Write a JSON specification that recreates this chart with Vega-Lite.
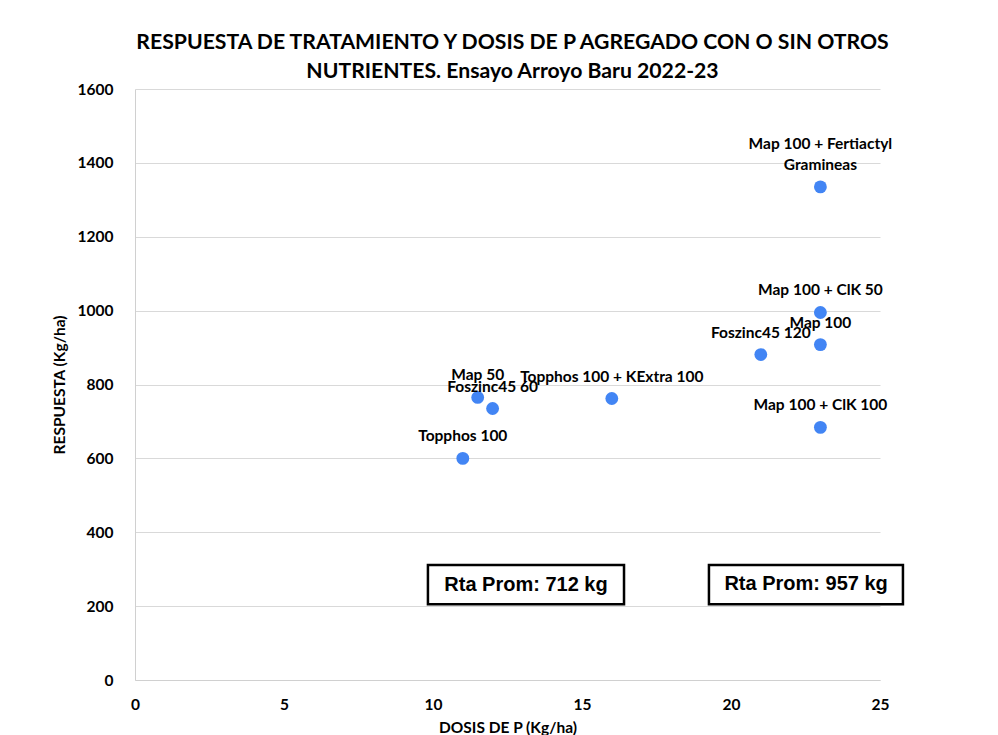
{
  "$schema": "https://vega.github.io/schema/vega-lite/v6.json",
  "autosize": "none",
  "width": 745,
  "height": 591,
  "padding": {"left": 135, "top": 89, "right": 118, "bottom": 55},
  "background": "white",
  "title": {
    "text": ["RESPUESTA DE TRATAMIENTO  Y DOSIS DE P AGREGADO CON O SIN OTROS", "NUTRIENTES.  Ensayo Arroyo Baru 2022-23"],
    "font": "Lato",
    "fontSize": 21.2,
    "fontWeight": "bold",
    "color": "#000000",
    "lineHeight": 29,
    "anchor": "middle",
    "offset": 0,
    "dx": 5
  },
  "config": {
    "view": {"stroke": null},
    "axis": {
      "labelFont": "Lato",
      "labelFontSize": 15.5,
      "labelFontWeight": "bold",
      "labelColor": "#000000",
      "labelFlush": false,
      "titleFont": "Lato",
      "titleFontSize": 15.5,
      "titleFontWeight": "bold",
      "titleColor": "#000000",
      "domainColor": "#d0d0d0",
      "gridColor": "#d9d9d9",
      "ticks": false
    }
  },
  "datasets": {
    "pts": [
      {"tratamiento": "Topphos 100", "dosis": 11, "respuesta": 600},
      {"tratamiento": "Map 50", "dosis": 11.5, "respuesta": 765},
      {"tratamiento": "Foszinc45 60", "dosis": 12, "respuesta": 735},
      {"tratamiento": "Topphos 100 + KExtra 100", "dosis": 16, "respuesta": 762},
      {"tratamiento": "Foszinc45 120", "dosis": 21, "respuesta": 881},
      {"tratamiento": "Map 100", "dosis": 23, "respuesta": 908},
      {"tratamiento": "Map 100 + ClK 50", "dosis": 23, "respuesta": 995},
      {"tratamiento": "Map 100 + ClK 100", "dosis": 23, "respuesta": 684},
      {"tratamiento": "Map 100 + Fertiactyl\nGramineas", "dosis": 23, "respuesta": 1335}
    ],
    "boxes": [
      {"label": "Rta Prom: 712 kg", "x1": 9.83, "x2": 16.41, "y1": 205, "y2": 311, "xc": 13.12, "yc": 256},
      {"label": "Rta Prom: 957 kg", "x1": 19.26, "x2": 25.77, "y1": 205, "y2": 311, "xc": 22.52, "yc": 260}
    ]
  },
  "layer": [
    {
      "data": {"name": "pts"},
      "mark": {"type": "point", "filled": true, "size": 165, "color": "#4285f4", "opacity": 1},
      "encoding": {
        "x": {
          "field": "dosis", "type": "quantitative",
          "scale": {"domain": [0, 25], "nice": false},
          "axis": {"values": [0, 5, 10, 15, 20, 25], "grid": false, "labelPadding": 17, "title": "DOSIS DE P (Kg/ha)", "titlePadding": 8}
        },
        "y": {
          "field": "respuesta", "type": "quantitative",
          "scale": {"domain": [0, 1600], "nice": false},
          "axis": {"values": [0, 200, 400, 600, 800, 1000, 1200, 1400, 1600], "format": "d", "grid": true, "labelPadding": 22, "title": "RESPUESTA (Kg/ha)", "titlePadding": 10}
        }
      }
    },
    {
      "data": {"name": "pts"},
      "transform": [{"filter": "indexof(datum.tratamiento, '\\n') < 0"}],
      "mark": {"type": "text", "font": "Lato", "fontSize": 15.5, "fontWeight": "bold", "color": "#000000", "baseline": "bottom", "dy": -14},
      "encoding": {
        "x": {"field": "dosis", "type": "quantitative"},
        "y": {"field": "respuesta", "type": "quantitative"},
        "text": {"field": "tratamiento"}
      }
    },
    {
      "data": {"name": "pts"},
      "transform": [{"filter": "indexof(datum.tratamiento, '\\n') >= 0"}],
      "mark": {"type": "text", "font": "Lato", "fontSize": 15.5, "fontWeight": "bold", "color": "#000000", "baseline": "bottom", "dy": -35, "lineBreak": "\n", "lineHeight": 21},
      "encoding": {
        "x": {"field": "dosis", "type": "quantitative"},
        "y": {"field": "respuesta", "type": "quantitative"},
        "text": {"field": "tratamiento"}
      }
    },
    {
      "data": {"name": "boxes"},
      "mark": {"type": "rect", "fill": "white", "stroke": "#000000", "strokeWidth": 2.5, "clip": false},
      "encoding": {
        "x": {"field": "x1", "type": "quantitative"},
        "x2": {"field": "x2"},
        "y": {"field": "y1", "type": "quantitative"},
        "y2": {"field": "y2"}
      }
    },
    {
      "data": {"name": "boxes"},
      "mark": {"type": "text", "font": "Liberation Sans", "fontSize": 20, "fontWeight": "bold", "color": "#000000", "baseline": "middle", "align": "center"},
      "encoding": {
        "x": {"field": "xc", "type": "quantitative"},
        "y": {"field": "yc", "type": "quantitative"},
        "text": {"field": "label"}
      }
    }
  ]
}
